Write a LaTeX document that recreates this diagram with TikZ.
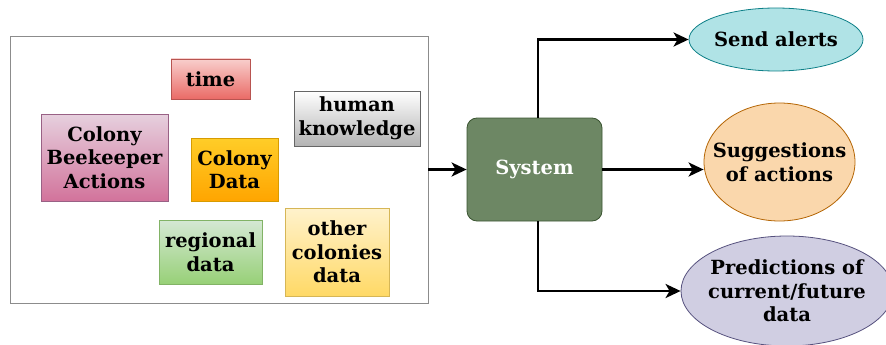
\documentclass[tikz,border=0pt]{standalone}
\usepackage{fontspec}
\setmainfont{DejaVu Serif}
\usetikzlibrary{arrows.meta,shapes.geometric}

\definecolor{frameline}{HTML}{8C8C8C}
\definecolor{timetop}{HTML}{F8CECC}
\definecolor{timebot}{HTML}{EA6B66}
\definecolor{timeline}{HTML}{B85450}
\definecolor{humanbot}{HTML}{B3B3B3}
\definecolor{humanline}{HTML}{666666}
\definecolor{beektop}{HTML}{E6D0DE}
\definecolor{beekbot}{HTML}{D2739B}
\definecolor{beekline}{HTML}{996185}
\definecolor{coltop}{HTML}{FFCD28}
\definecolor{colbot}{HTML}{FFA500}
\definecolor{colline}{HTML}{D79B00}
\definecolor{regtop}{HTML}{D5E8D4}
\definecolor{regbot}{HTML}{97D077}
\definecolor{regline}{HTML}{82B366}
\definecolor{othtop}{HTML}{FFF2CC}
\definecolor{othbot}{HTML}{FFD966}
\definecolor{othline}{HTML}{D6B656}
\definecolor{sysfill}{HTML}{6D8764}
\definecolor{sysline}{HTML}{3A5431}
\definecolor{alertfill}{HTML}{B0E3E6}
\definecolor{alertline}{HTML}{0E8088}
\definecolor{suggfill}{HTML}{FAD7AC}
\definecolor{suggline}{HTML}{B46504}
\definecolor{predfill}{HTML}{D0CEE2}
\definecolor{predline}{HTML}{56517E}

\begin{document}
\begin{tikzpicture}[x=1pt,y=-1pt,font=\bfseries\fontsize{19.5}{23.5}\selectfont,
  box/.style={draw,align=center,inner sep=0pt,line width=0.8pt},
  oval/.style={ellipse,draw,inner sep=0pt,line width=0.8pt},
  link/.style={line width=2.6pt,-{Stealth[length=15pt,width=14pt,inset=4pt]}}]

\useasboundingbox (0,0) rectangle (886,345);

% inputs
\node[box,draw=frameline,line width=0.8pt,minimum width=418pt,minimum height=267pt] (frame) at (219,169.5) {};

\node[box,draw=timeline,top color=timetop,bottom color=timebot,
  minimum width=79pt,minimum height=40pt] (time) at (210.5,79) {time};
\node[box,draw=humanline,top color=white,bottom color=humanbot,
  minimum width=126pt,minimum height=55pt] (human) at (357,118.5) {human\\knowledge};
\node[box,draw=beekline,top color=beektop,bottom color=beekbot,
  minimum width=127pt,minimum height=87pt] (beek) at (104.5,157.5) {Colony\\Beekeeper\\Actions};
\node[box,draw=colline,top color=coltop,bottom color=colbot,
  minimum width=87pt,minimum height=63pt] (coldata) at (234.5,169.5) {Colony\\Data};
\node[box,draw=regline,top color=regtop,bottom color=regbot,
  minimum width=103pt,minimum height=64pt] (regional) at (210.5,252) {regional\\data};
\node[box,draw=othline,top color=othtop,bottom color=othbot,
  minimum width=104pt,minimum height=88pt] (other) at (337,252) {other\\colonies\\data};

% system
\node[box,draw=sysline,fill=sysfill,text=white,rounded corners=10pt,
  minimum width=135pt,minimum height=103pt] (sys) at (534.5,169.5) {System};

% outputs
\node[oval,draw=alertline,fill=alertfill,minimum width=174pt,minimum height=63pt,
  label={[align=center]center:Send alerts}] (alerts) at (776,39.5) {};
\node[oval,draw=suggline,fill=suggfill,minimum width=151pt,minimum height=118pt,
  label={[align=center]center:Suggestions\\of actions}] (sugg) at (779.5,162) {};
\node[oval,draw=predline,fill=predfill,minimum width=212pt,minimum height=110pt,
  label={[align=center]center:Predictions of\\current/future\\data}] (pred) at (787,291) {};

\draw[link] (frame.east) -- (sys.west);
\draw[link] ([xshift=3.5pt]sys.north) |- (alerts.west);
\draw[link] (sys.east) -- (sys.east -| sugg.west);
\draw[link] ([xshift=3.5pt]sys.south) |- (pred.west);

\end{tikzpicture}
\end{document}
